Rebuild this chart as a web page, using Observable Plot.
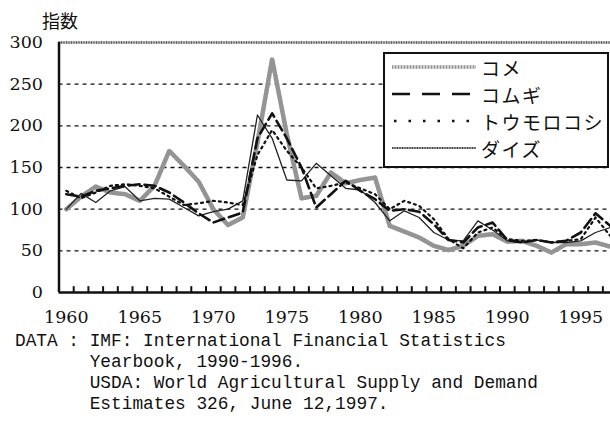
<!DOCTYPE html>
<html>
<head>
<meta charset="utf-8">
<script src="https://cdn.jsdelivr.net/npm/d3@7"></script>
<script src="https://cdn.jsdelivr.net/npm/@observablehq/plot@0.6"></script>
<style>
  html, body { margin: 0; padding: 0; background: #fff; }
  #wrap { position: relative; width: 610px; height: 425px; overflow: hidden; }
  #chart svg text { font-family: "DejaVu Serif", serif !important; }
  #ylabel { position: absolute; left: 42px; top: 7px; font: 18px "Noto Sans CJK JP"; color: #111; }
  #legend { position: absolute; left: 383px; top: 52px; width: 222px; height: 112px; border: 2px solid #111; background: #fff; overflow: visible; }
  #legend .row { position: absolute; left: 7px; height: 26px; display: flex; align-items: center; white-space: nowrap; }
  #legend .row span { font: 19px "Noto Sans CJK JP"; color: #111; margin-left: 5px; letter-spacing: 1.5px; white-space: nowrap; }
  #caption { position: absolute; left: 15px; top: 331px; font: 17.8px/21px "Liberation Mono", monospace; color: #111; white-space: pre; }
</style>
</head>
<body>
<div id="wrap">
  <div id="chart"></div>
  <div id="ylabel"></div>
  <div id="legend"></div>
  <div id="caption"></div>
</div>
<script>
const years = d3.range(1960, 1998);
const seriesNames = ["コメ", "コムギ", "トウモロコシ", "ダイズ"];
const rice = [100,115,127,120,118,110,128,170,152,133,100,81,90,180,280,190,113,116,144,131,135,138,80,73,66,56,51,56,68,70,61,62,56,48,58,58,60,55];
const wheat = [118,115,122,125,128,130,128,120,108,95,84,90,96,185,215,185,150,102,118,134,122,112,98,100,97,82,63,60,78,84,63,60,63,60,62,72,95,80];
const corn = [122,113,120,128,130,128,125,115,105,107,110,108,105,165,195,170,150,125,128,132,125,118,100,110,104,88,64,53,72,78,64,62,63,60,62,64,90,68];
const soy = [100,119,108,122,127,110,113,112,102,92,97,100,110,213,185,135,134,155,140,125,123,108,86,98,90,72,63,62,86,75,62,60,63,60,60,62,72,78];
const yTicks = [0, 50, 100, 150, 200, 250, 300];
const gridValues = [50, 100, 150, 200, 250];
const xTickLabels = [1960, 1965, 1970, 1975, 1980, 1985, 1990, 1995];
const yAxisTitle = "指数";
const captionLines = [
  "DATA : IMF: International Financial Statistics",
  "       Yearbook, 1990-1996.",
  "       USDA: World Agricultural Supply and Demand",
  "       Estimates 326, June 12,1997."
];

const toRows = (vals) => years.map((y, i) => ({year: y, value: vals[i]}));
const riceRows = toRows(rice), wheatRows = toRows(wheat), cornRows = toRows(corn), soyRows = toRows(soy);
const boundaryTicks = d3.range(1960.5, 1997, 1);

const chart = Plot.plot({
  width: 610,
  height: 334,
  marginLeft: 58.5,
  marginRight: 0,
  marginTop: 42,
  marginBottom: 42,
  style: {background: "transparent", color: "#111"},
  x: {domain: [1959.5, 1997.02], axis: null, label: null},
  y: {domain: [0, 300], axis: null, label: null},
  marks: [
    Plot.ruleY(gridValues, {stroke: "#111", strokeWidth: 1.3, strokeDasharray: "4,4"}),
    Plot.ruleY([300], {stroke: "#b5b5b5", strokeWidth: 2.5}),
    Plot.ruleY([300], {stroke: "#555", strokeWidth: 2.5, strokeDasharray: "1,1.5"}),
    Plot.ruleX(boundaryTicks, {y1: 0, y2: 7, stroke: "#111", strokeWidth: 2}),
    Plot.line(riceRows, {x: "year", y: "value", stroke: "#cacaca", strokeWidth: 4.5}),
    Plot.line(riceRows, {x: "year", y: "value", stroke: "#777", strokeWidth: 4.5, strokeDasharray: "1,2", strokeOpacity: 0.65}),
    Plot.line(cornRows, {x: "year", y: "value", stroke: "#111", strokeWidth: 2.2, strokeDasharray: "2,4"}),
    Plot.line(soyRows, {x: "year", y: "value", stroke: "#222", strokeWidth: 1.3}),
    Plot.line(wheatRows, {x: "year", y: "value", stroke: "#111", strokeWidth: 2.6, strokeDasharray: "11,5"}),
    Plot.ruleX([1959.5], {y1: 0, y2: 300, stroke: "#111", strokeWidth: 2.5}),
    Plot.ruleY([0], {stroke: "#111", strokeWidth: 2.5}),
    Plot.axisY({ticks: yTicks, tickSize: 0, tickPadding: 16, fontSize: 17.5, label: null, tickFormat: d => String(d)}),
    Plot.axisX({ticks: xTickLabels, tickSize: 0, tickPadding: 18, fontSize: 17.5, label: null, tickFormat: d => String(d)})
  ]
});
document.getElementById("chart").appendChild(chart);

document.getElementById("ylabel").textContent = yAxisTitle;
document.getElementById("caption").textContent = captionLines.join("\n");

// legend
const samples = [
  `<svg width="84" height="10"><line x1="0" y1="5" x2="84" y2="5" stroke="#cacaca" stroke-width="3.5"/><line x1="0" y1="5" x2="84" y2="5" stroke="#777" stroke-width="3.5" stroke-dasharray="1,2" stroke-opacity="0.65"/></svg>`,
  `<svg width="84" height="10"><line x1="0" y1="5" x2="80" y2="5" stroke="#111" stroke-width="2.6" stroke-dasharray="18,12"/></svg>`,
  `<svg width="84" height="10"><line x1="2" y1="5" x2="84" y2="5" stroke="#111" stroke-width="2.4" stroke-dasharray="2.5,12"/></svg>`,
  `<svg width="84" height="10"><line x1="0" y1="5" x2="84" y2="5" stroke="#999" stroke-width="2"/><line x1="0" y1="5" x2="84" y2="5" stroke="#444" stroke-width="2" stroke-dasharray="1,1.5"/></svg>`
];
const legend = document.getElementById("legend");
const rowTops = [0, 27, 54, 81];
seriesNames.forEach((name, i) => {
  const row = document.createElement("div");
  row.className = "row";
  row.style.top = rowTops[i] + "px";
  row.innerHTML = samples[i] + `<span>${name}</span>`;
  legend.appendChild(row);
});
</script>
</body>
</html>
